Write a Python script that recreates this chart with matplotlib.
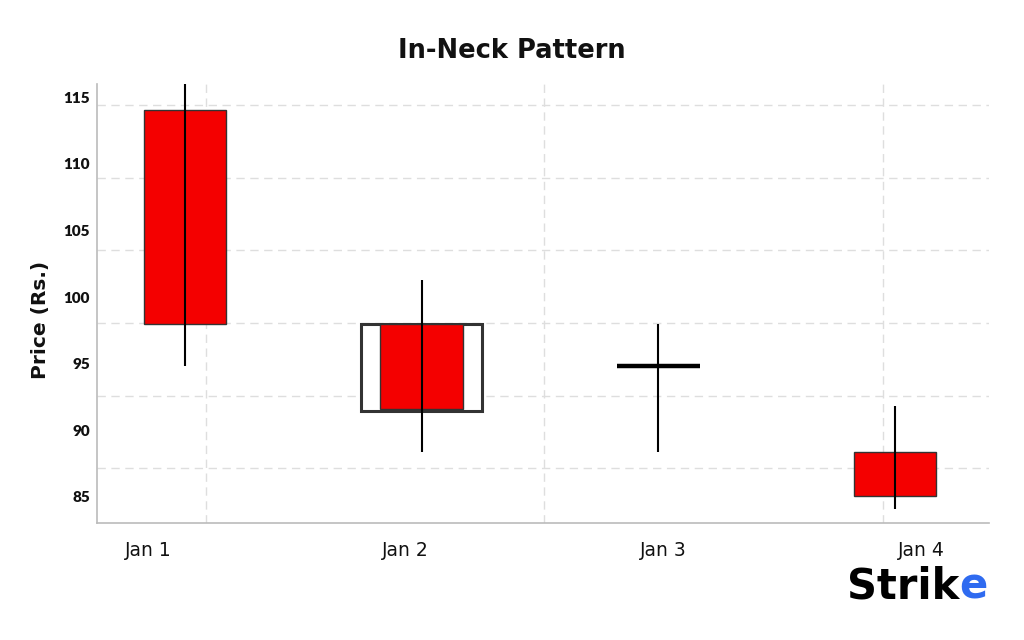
import matplotlib
matplotlib.use("Agg")
import matplotlib.pyplot as plt
from matplotlib.patches import Rectangle
import numpy as np

# ---- data ----
dates = ["Jan 1", "Jan 2", "Jan 3", "Jan 4"]
opens = [114.0, 98.0, 94.8, 88.4]
closes = [98.0, 91.6, 94.8, 85.1]
highs = [116.0, 101.3, 98.0, 91.8]
lows = [94.8, 88.4, 88.4, 84.1]
y_ticks = [85, 90, 95, 100, 105, 110, 115]

# ---- style / layout ----
RED = "#f40000"
EDGE = "#333333"
body_w = 0.35
box_w = 0.51
label_shift = [-0.156, -0.071, 0.02, 0.11]     # x tick label offsets
vgrid_pos = [0.089, 1.517, 2.949]
hgrid_pos = [114.4, 108.95, 103.5, 98.05, 92.6, 87.15]

fig = plt.figure(figsize=(10.24, 6.4), dpi=100)
ax = fig.add_axes([0.0947, 0.183, 0.8711, 0.686])

x = np.arange(len(dates))
for i in range(len(dates)):
    o, c, h, l = opens[i], closes[i], highs[i], lows[i]
    if i == 1:
        ax.add_patch(Rectangle((x[i] - box_w / 2, min(o, c) - 0.15), box_w, abs(o - c) + 0.15,
                               facecolor="white", edgecolor=EDGE, lw=2.2, zorder=2))
    if abs(o - c) < 0.3:
        ax.plot([x[i] - body_w / 2, x[i] + body_w / 2], [o, o], color="black", lw=3.2,
                solid_capstyle="butt", zorder=4)
    else:
        ax.add_patch(Rectangle((x[i] - body_w / 2, min(o, c)), body_w, abs(o - c),
                               facecolor=RED, edgecolor=EDGE, lw=1.0, zorder=3))
    ax.plot([x[i], x[i]], [l, h], color="black", lw=1.5, zorder=5, solid_capstyle="butt")

ax.set_xlim(-0.372, 3.397)
ax.set_ylim(83.05, 116.0)

for v in vgrid_pos:
    ax.axvline(v, color="#dedede", lw=1.0, ls=(0, (6, 4)), zorder=0)
for hpos in hgrid_pos:
    ax.axhline(hpos, color="#dedede", lw=1.0, ls=(0, (6, 4)), zorder=0)

ax.set_xticks(x + np.array(label_shift))
ax.set_xticklabels(dates, fontsize=13.5, family="DejaVu Sans", color="#111111")
ax.set_yticks(y_ticks)
ax.set_yticklabels([str(t) for t in y_ticks], fontsize=11, family="Lato",
                   fontweight="heavy", color="#111111")
ax.tick_params(axis="both", length=0)
ax.tick_params(axis="x", pad=13)
ax.tick_params(axis="y", pad=5)

for s in ["top", "right"]:
    ax.spines[s].set_visible(False)
for s in ["left", "bottom"]:
    ax.spines[s].set_color("#bbbbbb")
    ax.spines[s].set_linewidth(1.2)

ax.set_ylabel("Price (Rs.)", fontsize=14.5, fontweight="bold", family="DejaVu Sans",
              color="#111111")
ax.yaxis.set_label_coords(-0.053, 0.462)

fig.text(0.5, 0.92, "In-Neck Pattern", ha="center", va="center",
         fontsize=18.5, fontweight="bold", family="DejaVu Sans", color="#111111")

# logo
t = fig.text(0.827, 0.083, "Strik", ha="left", va="center", fontsize=30,
             fontweight="bold", family="DejaVu Sans", color="black")
fig.canvas.draw()
bb = t.get_window_extent()
fig.text(bb.x1 / fig.bbox.width, 0.083, "e", ha="left", va="center", fontsize=30,
         fontweight="bold", family="DejaVu Sans", color="#2f6bf0")

fig.savefig("out.png", dpi=100, facecolor="white")
